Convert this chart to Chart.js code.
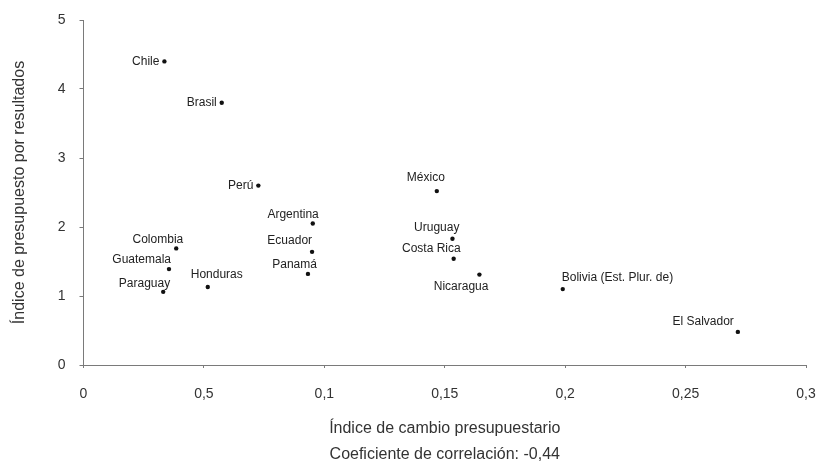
<!DOCTYPE html>
<html lang="es">
<head>
<meta charset="utf-8">
<script src="https://cdn.jsdelivr.net/npm/chart.js@4.4.1/dist/chart.umd.min.js"></script>
<style>
  html, body { margin: 0; padding: 0; background: #fff; }
  canvas { display: block; }
</style>
</head>
<body>
<canvas id="chart" width="818" height="469"></canvas>
<script>
const countries = [
  'Chile', 'Brasil', 'Perú', 'Argentina', 'Ecuador', 'Panamá', 'Colombia', 'Guatemala',
  'Paraguay', 'Honduras', 'México', 'Uruguay', 'Costa Rica', 'Nicaragua',
  'Bolivia (Est. Plur. de)', 'El Salvador',
];
const cambioPresupuestario = [
  0.0336, 0.0574, 0.0726, 0.0952, 0.0949, 0.0932, 0.0385, 0.0355,
  0.0331, 0.0516, 0.1467, 0.1532, 0.1537, 0.1644, 0.199, 0.2717,
];
const presupuestoResultados = [
  4.4, 3.8, 2.6, 2.05, 1.64, 1.32, 1.69, 1.39,
  1.06, 1.13, 2.52, 1.83, 1.54, 1.31, 1.1, 0.48,
];
const xTickLabels = ['0', '0,5', '0,1', '0,15', '0,2', '0,25', '0,3'];
const yTickLabels = ['0', '1', '2', '3', '4', '5'];
const xTitleLines = ['Índice de cambio presupuestario', 'Coeficiente de correlación: -0,44'];

// where each country name sits next to its dot: [textAlign, dx, dy]
const labelAnchors = [
  ['right', -5, 0], ['right', -5, 0], ['right', -5, 0], ['right', 6, -9],
  ['right', 0, -11], ['right', 9, -9], ['right', 7, -8.5], ['right', 2, -9],
  ['right', 7, -8], ['center', 9, -12], ['right', 8, -13.5], ['right', 7, -11],
  ['right', 7, -10], ['right', 9, 12.5], ['left', -1, -11], ['right', -4, -10],
];

const FONT = "'Liberation Sans', Arial, Helvetica, sans-serif";
const AXIS_GREY = '#7a7a7a';
const TEXT = '#333333';

const pointLabels = {
  id: 'pointLabels',
  afterDatasetsDraw(chart) {
    const { ctx } = chart;
    const meta = chart.getDatasetMeta(0);
    ctx.save();
    ctx.font = `12px ${FONT}`;
    ctx.fillStyle = '#222';
    ctx.textBaseline = 'middle';
    meta.data.forEach((pt, i) => {
      const [align, dx, dy] = labelAnchors[i];
      ctx.textAlign = align;
      ctx.fillText(countries[i], pt.x + dx, pt.y + dy);
    });
    ctx.restore();
  },
};

new Chart(document.getElementById('chart').getContext('2d'), {
  type: 'scatter',
  data: {
    datasets: [
      {
        data: cambioPresupuestario.map((x, i) => ({ x, y: presupuestoResultados[i] })),
        pointRadius: 2.2,
        pointBackgroundColor: '#111',
        pointBorderWidth: 0,
      },
    ],
  },
  options: {
    responsive: false,
    animation: false,
    layout: { padding: { left: 0, right: 12, top: 20, bottom: 0 } },
    plugins: {
      legend: { display: false },
      tooltip: { enabled: false },
    },
    scales: {
      x: {
        type: 'linear',
        min: 0,
        max: 0.3,
        afterFit: (scale) => {
          scale.height = 104;
          scale.paddingLeft = 0;
          scale.paddingRight = 0;
        },
        border: { display: true, color: AXIS_GREY, width: 1 },
        grid: { drawOnChartArea: false, drawTicks: true, tickLength: 3, color: AXIS_GREY },
        ticks: {
          stepSize: 0.05,
          padding: 18,
          color: TEXT,
          font: { family: FONT, size: 14 },
          callback: (value, index) => xTickLabels[index],
        },
        title: {
          display: true,
          text: xTitleLines,
          color: TEXT,
          font: { family: FONT, size: 16, lineHeight: 1.625 },
          padding: { top: 0, bottom: 1 },
        },
      },
      y: {
        min: 0,
        max: 5,
        afterFit: (scale) => {
          scale.width = 83.5;
          scale.paddingTop = 0;
          scale.paddingBottom = 0;
        },
        border: { display: true, color: AXIS_GREY, width: 1 },
        grid: { drawOnChartArea: false, drawTicks: true, tickLength: 4, color: AXIS_GREY },
        ticks: {
          stepSize: 1,
          padding: 14,
          color: TEXT,
          font: { family: FONT, size: 14 },
          callback: (value, index) => yTickLabels[index],
        },
        title: {
          display: true,
          text: 'Índice de presupuesto por resultados',
          color: TEXT,
          font: { family: FONT, size: 16, lineHeight: 1.2 },
          padding: { top: 10, bottom: 0 },
        },
      },
    },
  },
  plugins: [pointLabels],
});
</script>
</body>
</html>
